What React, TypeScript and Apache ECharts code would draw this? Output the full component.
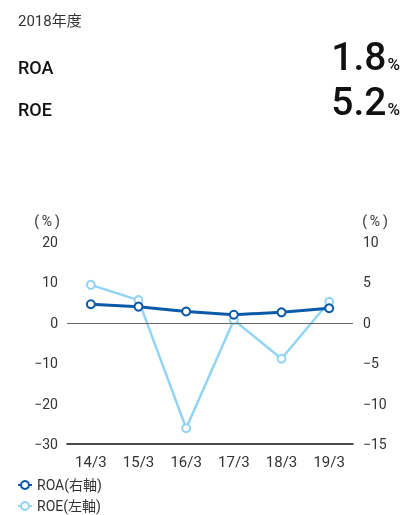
import React, { useEffect, useRef } from "react";
import * as echarts from "echarts";

const categories = ["14/3", "15/3", "16/3", "17/3", "18/3", "19/3"];
const roa = [2.3, 2.0, 1.4, 1.0, 1.3, 1.8];
const roe = [9.4, 5.6, -26.1, 0.7, -8.9, 5.2];
const headerYear = "2018年度";
const headerRoa = "1.8";
const headerRoe = "5.2";

const FONT = "Roboto, 'Noto Sans CJK JP', sans-serif";
const ROA_COLOR = "#0b5aa9";
const ROE_COLOR = "#92d4f5";

const fmt = (v: number) => String(v).replace("-", "\u2212");

export default function App() {
  const ref = useRef<HTMLDivElement>(null);
  useEffect(() => {
    const chart = echarts.init(ref.current!, null, { renderer: "svg" });
    const big = (v: string) => ({
      text: `{a|${v}}{b|%}`,
      rich: {
        a: { fontSize: 39, fontWeight: 500, fontFamily: FONT, fill: "#111", verticalAlign: "bottom" },
        b: { fontSize: 17, fontWeight: 500, fontFamily: FONT, fill: "#111", verticalAlign: "bottom", padding: [0, 0, 4, 1] },
      },
    });
    chart.setOption({
      animation: false,
      textStyle: { fontFamily: FONT },
      graphic: [
        { type: "text", left: 18, top: 13, style: { text: headerYear, font: `15px ${FONT}`, fill: "#333" } },
        { type: "text", left: 18, top: 58, style: { text: "ROA", font: `500 18px ${FONT}`, fill: "#111" } },
        { type: "text", left: 18, top: 100, style: { text: "ROE", font: `500 18px ${FONT}`, fill: "#111" } },
        { type: "text", right: 4, top: 37, style: big(headerRoa) },
        { type: "text", right: 4, top: 82, style: big(headerRoe) },
        { type: "text", x: 47, y: 221, style: { text: "(\u2009%\u2009)", font: `14px ${FONT}`, fill: "#333", align: "center", verticalAlign: "middle" } },
        { type: "text", x: 375, y: 221, style: { text: "(\u2009%\u2009)", font: `14px ${FONT}`, fill: "#333", align: "center", verticalAlign: "middle" } },
      ],
      grid: { left: 67, right: 51, top: 242, bottom: 71 },
      legend: {
        left: 17,
        top: 477,
        height: 37,
        padding: 0,
        orient: "vertical",
        itemGap: 5,
        itemWidth: 14,
        itemHeight: 10,
        textStyle: { fontSize: 14, lineHeight: 16, color: "#333", fontFamily: FONT },
        data: ["ROA(右軸)", "ROE(左軸)"],
      },
      xAxis: {
        type: "category",
        data: categories,
        axisLine: { onZero: false, lineStyle: { color: "#111", width: 1.5 } },
        axisTick: { show: false },
        axisLabel: { fontSize: 15, color: "#333", margin: 10, fontFamily: FONT },
      },
      yAxis: [
        {
          type: "value", min: -30, max: 20, interval: 10, position: "left",
          splitLine: { show: false }, axisLine: { show: false }, axisTick: { show: false },
          axisLabel: { fontSize: 14, color: "#333", margin: 9, formatter: fmt, fontFamily: FONT },
        },
        {
          type: "value", min: -15, max: 10, interval: 5, position: "right",
          splitLine: { show: false }, axisLine: { show: false }, axisTick: { show: false },
          axisLabel: { fontSize: 14, color: "#333", margin: 10, formatter: fmt, fontFamily: FONT },
        },
      ],
      series: [
        {
          name: "ROE(左軸)",
          type: "line",
          yAxisIndex: 0,
          data: roe,
          symbol: "circle",
          symbolSize: 8,
          itemStyle: { color: "#fff", borderColor: ROE_COLOR, borderWidth: 2 },
          lineStyle: { color: ROE_COLOR, width: 2.5 },
          markLine: {
            silent: true,
            symbol: "none",
            label: { show: false },
            lineStyle: { color: "#666", width: 1, type: "solid" },
            data: [{ yAxis: 0 }],
          },
          z: 2,
        },
        {
          name: "ROA(右軸)",
          type: "line",
          yAxisIndex: 1,
          data: roa,
          symbol: "circle",
          symbolSize: 8,
          itemStyle: { color: "#fff", borderColor: ROA_COLOR, borderWidth: 2 },
          lineStyle: { color: ROA_COLOR, width: 3 },
          z: 3,
        },
      ],
    });
    return () => chart.dispose();
  }, []);
  return <div ref={ref} style={{ position: "fixed", left: 0, top: 0, width: 404, height: 515 }} />;
}
